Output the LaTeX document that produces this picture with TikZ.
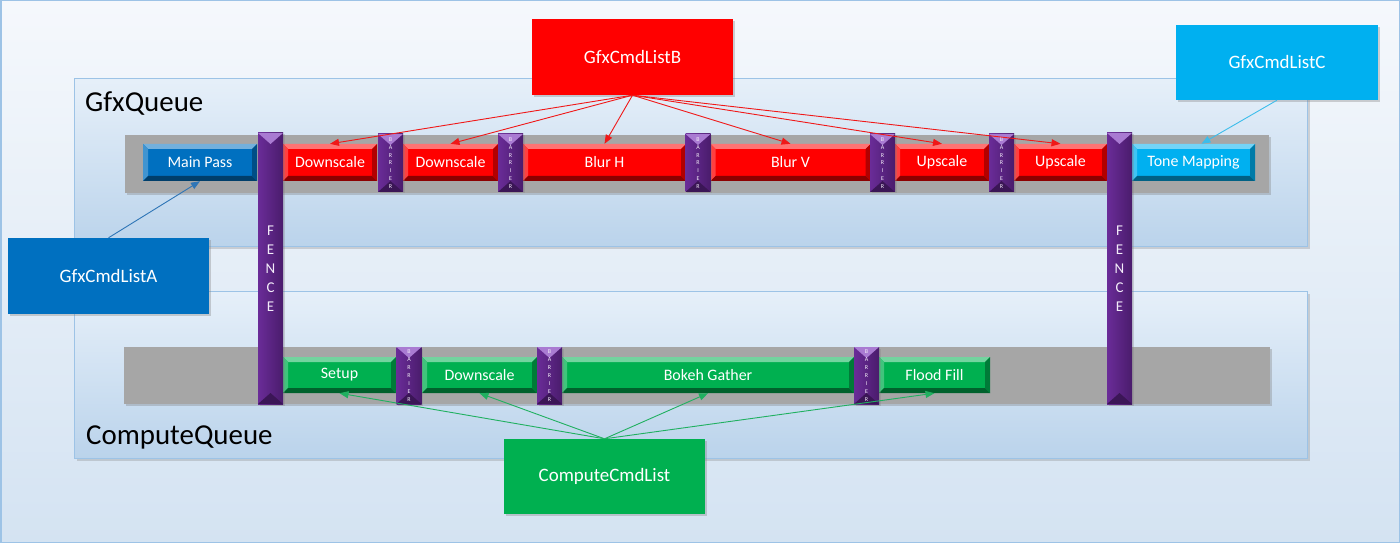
\documentclass[tikz,border=0pt]{standalone}
\usepackage{fontspec}
\setmainfont{Carlito}
\usetikzlibrary{arrows.meta,shadows}
\definecolor{bgtop}{HTML}{F5F8FC}
\definecolor{bgbot}{HTML}{D4E3F2}
\definecolor{frameblue}{HTML}{9DC3E6}
\definecolor{panelT}{HTML}{F6F9FD}
\definecolor{panelL}{HTML}{E2EDF8}
\definecolor{panelM}{HTML}{B4CFE9}
\definecolor{panelB}{HTML}{C4DAEF}
\definecolor{gfxred}{HTML}{FF0000}
\definecolor{gfxblue}{HTML}{0070C0}
\definecolor{gfxcyan}{HTML}{00B0F0}
\definecolor{cmpgreen}{HTML}{00B050}
\definecolor{fenceL}{HTML}{6A2C98}
\definecolor{fenceM}{HTML}{8442BE}
\definecolor{fenceD}{HTML}{4A1C6C}
\definecolor{trackgray}{HTML}{A6A6A6}
\definecolor{arrred}{HTML}{F01818}
\definecolor{arrblue}{HTML}{2E75B6}
\definecolor{arrcyan}{HTML}{3CBDEB}
\definecolor{arrgreen}{HTML}{20B060}
\pgfdeclareverticalshading{panelshade}{100bp}{color(0bp)=(panelB); color(18bp)=(panelM); color(70bp)=(panelL); color(100bp)=(panelT)}
\tikzset{
  pass/.style={fill=#1, text=white, font=\fontsize{16}{18}\selectfont, inner sep=0pt,
    path picture={
      \path (path picture bounding box.north west) coordinate (bvnw)
            (path picture bounding box.north east) coordinate (bvne)
            (path picture bounding box.south west) coordinate (bvsw)
            (path picture bounding box.south east) coordinate (bvse);
      \fill[#1!55!white] (bvnw) -- (bvne) -- ([shift={(-5bp,-5bp)}]bvne) -- ([shift={(5bp,-5bp)}]bvnw) -- cycle;
      \fill[#1!75!white] (bvnw) -- ([shift={(5bp,-5bp)}]bvnw) -- ([shift={(5bp,5bp)}]bvsw) -- (bvsw) -- cycle;
      \fill[#1!55!black] (bvsw) -- (bvse) -- ([shift={(-5bp,5bp)}]bvse) -- ([shift={(5bp,5bp)}]bvsw) -- cycle;
      \fill[#1!70!black] (bvne) -- ([shift={(-5bp,-5bp)}]bvne) -- ([shift={(-5bp,5bp)}]bvse) -- (bvse) -- cycle;
    }},
  purplebar/.style={left color=fenceL, middle color=fenceM, right color=fenceD, text=white!90!fenceM, inner sep=0pt, minimum width=25bp, align=center,
    drop shadow={shadow xshift=1.5bp, shadow yshift=-1.5bp, opacity=0.3},
    path picture={
      \path (path picture bounding box.north west) coordinate (bvnw)
            (path picture bounding box.north east) coordinate (bvne)
            (path picture bounding box.south west) coordinate (bvsw)
            (path picture bounding box.south east) coordinate (bvse)
            (path picture bounding box.north) coordinate (bvn)
            (path picture bounding box.south) coordinate (bvs);
      \fill[fenceM!70!white] (bvnw) -- (bvne) -- ([yshift=-11bp]bvn) -- cycle;
      \fill[fenceD!80!black] (bvsw) -- (bvse) -- ([yshift=11bp]bvs) -- cycle;
    }},
  fencebar/.style={purplebar, font=\fontsize{15}{19}\selectfont},
  barrierbar/.style={purplebar, font=\fontsize{6}{7.9}\selectfont},
  cmdbox/.style={fill=#1, text=white, font=\fontsize{19}{22}\selectfont, inner sep=0pt,
    minimum width=201bp, minimum height=76bp,
    drop shadow={shadow xshift=2bp, shadow yshift=-2bp, opacity=0.35}},
  panel/.style={draw=frameblue, line width=1bp, shading=panelshade,
    drop shadow={shadow xshift=2.5bp, shadow yshift=-2.5bp, opacity=0.3}},
  trackbar/.style={fill=trackgray, drop shadow={shadow xshift=1.5bp, shadow yshift=-2bp, opacity=0.35}},
  conn/.style={draw=#1, line width=0.9bp, -{Triangle[length=9bp,width=7bp,fill=#1]}},
  qlabel/.style={anchor=base west, font=\fontsize{29}{34}\selectfont, inner sep=0pt},
}
\begin{document}
\begin{tikzpicture}[x=1bp, y=-1bp]
\useasboundingbox (0,0) rectangle (1400,543);
% background
\shade[top color=bgtop, bottom color=bgbot, draw=frameblue, line width=1.5bp] (0.75,0.75) rectangle (1399.25,542.25);
% panels
\path[panel] (74,79) rectangle (1307,247);
\path[panel] (74,291) rectangle (1307,458);
\node[qlabel] (gfxq) at (85,112) {GfxQueue};
\node[qlabel] (cmpq) at (86,444) {ComputeQueue};
% tracks
\path[trackbar] (125,135) rectangle (1269,193);
\path[trackbar] (124,347) rectangle (1270,404);
% gfx passes
\node[pass=gfxblue, minimum width=114bp, minimum height=37bp] (mp) at (200,162.5) {Main Pass};
\node[pass=gfxred, minimum width=94bp, minimum height=37bp] (ds1) at (330,162.5) {Downscale};
\node[pass=gfxred, minimum width=95bp, minimum height=37bp] (ds2) at (450.5,162.5) {Downscale};
\node[pass=gfxred, minimum width=163bp, minimum height=37bp] (blh) at (604.5,162.5) {Blur H};
\node[pass=gfxred, minimum width=160bp, minimum height=37bp] (blv) at (790.5,162.5) {Blur V};
\node[pass=gfxred, minimum width=94bp, minimum height=37bp] (up1) at (942,162.5) {Upscale};
\node[pass=gfxred, minimum width=93bp, minimum height=37bp] (up2) at (1060.5,162.5) {Upscale};
\node[pass=gfxcyan, minimum width=123bp, minimum height=37bp] (tm) at (1193.5,162.5) {Tone Mapping};
% compute passes
\node[pass=cmpgreen, minimum width=113bp, minimum height=36bp] (su) at (339.5,375) {Setup};
\node[pass=cmpgreen, minimum width=115bp, minimum height=36bp] (cds) at (479.5,375) {Downscale};
\node[pass=cmpgreen, minimum width=292bp, minimum height=36bp] (bg) at (708,375) {Bokeh Gather};
\node[pass=cmpgreen, minimum width=111bp, minimum height=36bp] (ff) at (934.5,375) {Flood Fill};
% barriers
\node[barrierbar, minimum height=58bp] (b1) at (390.5,163) {B\\A\\R\\R\\I\\E\\R};
\node[barrierbar, minimum height=58bp] (b2) at (510.5,163) {B\\A\\R\\R\\I\\E\\R};
\node[barrierbar, minimum height=58bp] (b3) at (698,163) {B\\A\\R\\R\\I\\E\\R};
\node[barrierbar, minimum height=58bp] (b4) at (882.5,163) {B\\A\\R\\R\\I\\E\\R};
\node[barrierbar, minimum height=58bp] (b5) at (1001.5,163) {B\\A\\R\\R\\I\\E\\R};
\node[barrierbar, minimum height=57bp] (c1) at (409,375.5) {B\\A\\R\\R\\I\\E\\R};
\node[barrierbar, minimum height=57bp] (c2) at (549.5,375.5) {B\\A\\R\\R\\I\\E\\R};
\node[barrierbar, minimum height=57bp] (c3) at (866.5,375.5) {B\\A\\R\\R\\I\\E\\R};
% fences
\node[fencebar, minimum height=271bp] (f1) at (270.5,268.5) {F\\E\\N\\C\\E};
\node[fencebar, minimum height=271bp] (f2) at (1119.5,268.5) {F\\E\\N\\C\\E};
% command lists
\node[cmdbox=gfxblue] (cla) at (108.5,276) {GfxCmdListA};
\node[cmdbox=gfxred] (clb) at (632.5,57) {GfxCmdListB};
\node[cmdbox=gfxcyan, minimum width=202bp, minimum height=75bp] (clc) at (1277,62.5) {GfxCmdListC};
\node[cmdbox=cmpgreen, minimum height=75bp] (clcmp) at (604.5,476.5) {ComputeCmdList};
% connectors
\draw[conn=arrblue] (cla.north) -- (mp.south);
\foreach \t in {ds1,ds2,blh,blv,up1,up2} \draw[conn=arrred] (clb.south) -- (\t.north);
\draw[conn=arrcyan] (clc.south) -- ([xshift=8bp]tm.north);
\foreach \t in {su,cds,bg,ff} \draw[conn=arrgreen] (clcmp.north) -- (\t.south);
\end{tikzpicture}
\end{document}
